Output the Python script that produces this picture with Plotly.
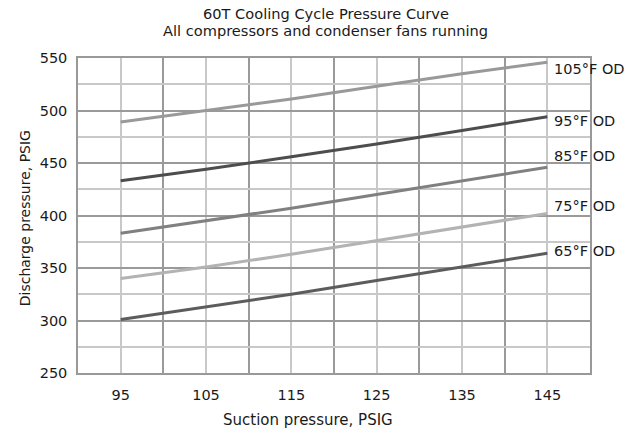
import plotly.graph_objects as go

# suction pressure (PSIG)
suction = [95, 105, 115, 125, 135, 145]

# discharge pressure (PSIG) for each outdoor temperature
od_105 = [489, 500, 511, 523, 535, 546]
od_95 = [433, 444, 456, 468, 481, 494]
od_85 = [383, 395, 407, 420, 433, 446]
od_75 = [340, 351, 363, 376, 389, 402]
od_65 = [301, 313, 325, 338, 351, 364]

labels = ["105°F OD", "95°F OD", "85°F OD", "75°F OD", "65°F OD"]
series = [od_105, od_95, od_85, od_75, od_65]
colors = ["#999999", "#4d4d4d", "#808080", "#b3b3b3", "#5c5c5c"]
label_y = [540, 490, 457, 409, 366]

title_lines = ["60T Cooling Cycle Pressure Curve", "All compressors and condenser fans running"]
x_title = "Suction pressure, PSIG"
y_title = "Discharge pressure, PSIG"

fig = go.Figure()
for name, vals, col in zip(labels, series, colors):
    fig.add_trace(go.Scatter(x=suction, y=vals, mode="lines", name=name,
                             line=dict(color=col, width=3), showlegend=False))

for name, y in zip(labels, label_y):
    fig.add_annotation(x=145, y=y, text=name, xanchor="left", yanchor="middle",
                       xshift=5, showarrow=False,
                       font=dict(size=14.5, color="#1a1a1a"))

# two-line title, placed above the plot area
for line, y in zip(title_lines, [1.14, 1.086]):
    fig.add_annotation(x=0.484, y=y, xref="paper", yref="paper", text=line,
                       xanchor="center", yanchor="middle", showarrow=False,
                       font=dict(size=14.6, color="#1a1a1a"))

# axis titles (the x one sits a bit left of centre in the original)
fig.add_annotation(x=0.449, y=-0.149, xref="paper", yref="paper", text=x_title,
                   xanchor="center", yanchor="middle", showarrow=False,
                   font=dict(size=15, color="#1a1a1a"))
fig.add_annotation(x=-0.103, y=0.492, xref="paper", yref="paper", text=y_title,
                   textangle=-90, xanchor="center", yanchor="middle", showarrow=False,
                   font=dict(size=14, color="#1a1a1a"))

fig.update_layout(
    width=638, height=432,
    margin=dict(l=78, r=48, t=58, b=59),
    plot_bgcolor="white", paper_bgcolor="white",
    font=dict(family="DejaVu Sans", size=14.5, color="#1a1a1a"),
)
fig.update_xaxes(
    range=[90, 150], tickvals=[95, 105, 115, 125, 135, 145],
    showgrid=True, gridcolor="#c8c8c8", gridwidth=1.5,
    minor=dict(tick0=90, dtick=10, showgrid=True, gridcolor="#9a9a9a", gridwidth=1.5),
    showline=True, mirror=True, linecolor="#999999", linewidth=1.5,
    ticks="", zeroline=False, ticklabelstandoff=8, automargin=False,
)
fig.update_yaxes(
    range=[250, 550], dtick=50, tick0=250,
    showgrid=True, gridcolor="#9a9a9a", gridwidth=1.5,
    minor=dict(tick0=275, dtick=50, showgrid=True, gridcolor="#c8c8c8", gridwidth=1.5),
    showline=True, mirror=True, linecolor="#999999", linewidth=1.5,
    ticks="", zeroline=False, ticklabelstandoff=6, automargin=False,
)

fig.write_html("out.html", config={"displayModeBar": False},
               post_script="document.body.style.margin='0';")
